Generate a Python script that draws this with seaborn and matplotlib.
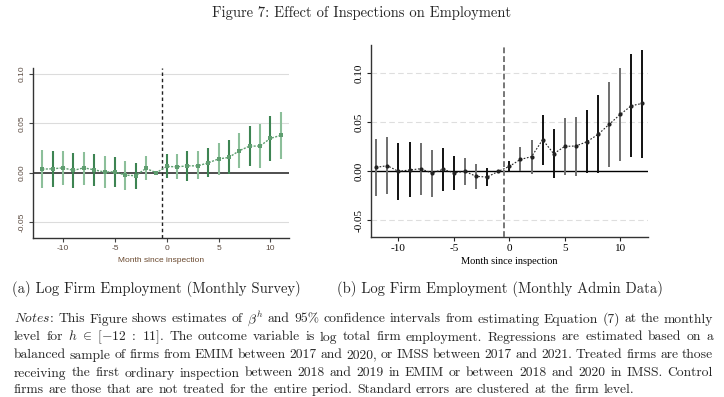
import numpy as np
import pandas as pd
import matplotlib
matplotlib.use("Agg")
import matplotlib.pyplot as plt
import seaborn as sns

# ---------------- data ----------------
months_a = list(range(-12, 12))
coef_a = [0.0037, 0.0040, 0.0050, 0.0024, 0.0050, 0.0030, 0.0007, 0.0010,
          -0.0024, -0.0030, 0.0044, 0.0000, 0.0064, 0.0060, 0.0070, 0.0070,
          0.0100, 0.0140, 0.0155, 0.0223, 0.0270, 0.0270, 0.0348, 0.0378]
hi_a = [0.0230, 0.0220, 0.0220, 0.0196, 0.0210, 0.0190, 0.0170, 0.0160,
        0.0120, 0.0095, 0.0170, np.nan, 0.0186, 0.0190, 0.0220, 0.0220,
        0.0247, 0.0297, 0.0328, 0.0405, 0.0476, 0.0490, 0.0574, 0.0610]
lo_a = [-0.0150, -0.0140, -0.0125, -0.0150, -0.0120, -0.0135, -0.0155, -0.0145,
        -0.0170, -0.0160, -0.0074, np.nan, -0.0050, -0.0068, -0.0080, -0.0068,
        -0.0047, -0.0020, -0.0017, 0.0044, 0.0068, 0.0050, 0.0122, 0.0139]

months_b = list(range(-12, 13))
coef_b = [0.0041, 0.0058, 0.0000, 0.0014, 0.0027, -0.0017, 0.0020, -0.0014,
          0.0000, -0.0051, -0.0058, 0.0000, 0.0051, 0.0122, 0.0150, 0.0323,
          0.0180, 0.0255, 0.0259, 0.0303, 0.0378, 0.0480, 0.0582, 0.0670, 0.0694]
hi_b = [0.0327, 0.0347, 0.0286, 0.0296, 0.0293, 0.0221, 0.0238, 0.0156,
        0.0140, 0.0078, 0.0030, np.nan, 0.0105, 0.0245, 0.0320, 0.0580,
        0.0432, 0.0544, 0.0558, 0.0626, 0.0779, 0.0912, 0.1054, 0.1197, 0.1238]
lo_b = [-0.0248, -0.0235, -0.0293, -0.0265, -0.0241, -0.0259, -0.0201, -0.0187,
        -0.0140, -0.0180, -0.0146, np.nan, -0.0003, 0.0000, -0.0027, 0.0065,
        -0.0068, -0.0040, -0.0044, -0.0020, -0.0020, 0.0048, 0.0105, 0.0150, 0.0140]

x_ticks = [-10, -5, 0, 5, 10]
y_ticks = [-0.05, 0.00, 0.05, 0.10]
y_ticklabels = ["-0.05", "0.00", "0.05", "0.10"]
event_line = -0.5

title = "Figure 7: Effect of Inspections on Employment"
caption_a = "(a) Log Firm Employment (Monthly Survey)"
caption_b = "(b) Log Firm Employment (Monthly Admin Data)"
xlabel = "Month since inspection"
notes_lines = [
    r"$\mathit{Notes}$: This Figure shows estimates of $\beta^h$ and 95% confidence intervals from estimating Equation (7) at the monthly",
    r"level for $h\ \in\ [-12\ :\ 11]$. The outcome variable is log total firm employment. Regressions are estimated based on a",
    r"balanced sample of firms from EMIM between 2017 and 2020, or IMSS between 2017 and 2021. Treated firms are those",
    r"receiving the first ordinary inspection between 2018 and 2019 in EMIM or between 2018 and 2020 in IMSS. Control",
    r"firms are those that are not treated for the entire period. Standard errors are clustered at the firm level.",
]

df_a = pd.DataFrame({"month": months_a, "coef": coef_a, "lo": lo_a, "hi": hi_a})
df_b = pd.DataFrame({"month": months_b, "coef": coef_b, "lo": lo_b, "hi": hi_b})

# ---------------- style ----------------
sns.set_theme(style="white")
plt.rcParams["mathtext.fontset"] = "cm"
plt.rcParams["axes.unicode_minus"] = False

W, H = 724, 397
fig = plt.figure(figsize=(W / 100, H / 100), dpi=100)
fig.patch.set_facecolor("white")

def box(x0, y0, x1, y1):
    return [x0 / W, 1 - y1 / H, (x1 - x0) / W, (y1 - y0) / H]

# ---------------- panel (a) ----------------
axa = fig.add_axes(box(33, 68, 289, 238))
ca = df_a.dropna()
cols_a = ["#8cbf9a" if i % 2 == 0 else "#3d8452" for i in range(len(ca))]
axa.vlines(ca["month"], ca["lo"], ca["hi"], colors=cols_a, lw=1.5, zorder=2)
for yv in [-0.05, 0.05, 0.10]:
    axa.axhline(yv, color="#dcdcdc", lw=0.8, zorder=0)
axa.axhline(0, color="#404040", lw=1.3, zorder=1)
axa.axvline(event_line, color="#222222", lw=1.0, ls=(0, (2.5, 2)), zorder=3)
sns.lineplot(data=df_a, x="month", y="coef", ax=axa, color="#5f9e70",
             linestyle=(0, (1.5, 1)), lw=1.0, marker="s", markersize=3,
             markeredgewidth=0, zorder=4)
axa.set_xlim(-12.9, 11.8)
axa.set_ylim(-0.066, 0.106)
axa.set_xticks(x_ticks)
axa.set_xticklabels([str(t) for t in x_ticks])
axa.set_yticks(y_ticks)
axa.set_yticklabels(y_ticklabels, rotation=90, va="center")
axa.tick_params(axis="both", labelsize=6, colors="#444444", length=3,
                width=0.8, direction="out", pad=2, left=True, bottom=True)
for lab in axa.get_xticklabels() + axa.get_yticklabels():
    lab.set_family("Liberation Sans")
    lab.set_color("#5a4a40")
axa.set_xlabel(xlabel, fontsize=6, color="#6b4a30", family="Liberation Sans", labelpad=4)
axa.set_ylabel("")
for s in ["top", "right"]:
    axa.spines[s].set_visible(False)
for s in ["left", "bottom"]:
    axa.spines[s].set_color("#333333")
    axa.spines[s].set_linewidth(1.0)

# ---------------- panel (b) ----------------
axb = fig.add_axes(box(370.7, 45, 648, 236.7))
cb = df_b.dropna()
cols_b = ["#6e6e6e" if (i // 2) % 2 == 0 else "#111111" for i in range(len(cb))]
axb.vlines(cb["month"], cb["lo"], cb["hi"], colors=cols_b, lw=1.4, zorder=2)
for yv in [-0.05, 0.05, 0.10]:
    axb.axhline(yv, color="#dedede", lw=0.8, ls=(0, (5, 3)), zorder=0)
axb.axhline(0, color="black", lw=1.0, zorder=1)
axb.axvline(event_line, color="#777777", lw=1.4, ls=(0, (3, 1.5)), zorder=3)
sns.lineplot(data=df_b, x="month", y="coef", ax=axb, color="#222222",
             linestyle=(0, (1.5, 1.5)), lw=0.8, marker="o", markersize=3,
             markeredgewidth=0, zorder=4)
axb.set_xlim(-12.5, 12.5)
axb.set_ylim(-0.0667, 0.129)
axb.set_xticks(x_ticks)
axb.set_xticklabels([str(t) for t in x_ticks])
axb.set_yticks(y_ticks)
axb.set_yticklabels(y_ticklabels, rotation=90, va="center")
axb.tick_params(axis="both", labelsize=8, colors="#222222", length=3,
                width=0.8, direction="out", pad=2, left=True, bottom=True)
for lab in axb.get_xticklabels() + axb.get_yticklabels():
    lab.set_family("Liberation Serif")
    lab.set_color("black")
axb.set_xlabel(xlabel, fontsize=7.5, color="black", family="Liberation Serif", labelpad=3)
axb.set_ylabel("")
for s in ["top", "right"]:
    axb.spines[s].set_visible(False)
for s in ["left", "bottom"]:
    axb.spines[s].set_color("#333333")
    axb.spines[s].set_linewidth(1.0)

# ---------------- texts ----------------
fig.text(362 / W, 1 - 17 / H, title, ha="center", va="baseline",
         fontsize=10.5, family="cmr10")
fig.text(156 / W, 1 - 293 / H, caption_a, ha="center", va="baseline",
         fontsize=10.5, family="cmr10")
fig.text(500 / W, 1 - 293 / H, caption_b, ha="center", va="baseline",
         fontsize=10.5, family="cmr10")

def split_tokens(s):
    toks, cur, inmath = [], "", False
    for ch in s:
        if ch == "$":
            inmath = not inmath
        if ch == " " and not inmath:
            if cur:
                toks.append(cur)
            cur = ""
        else:
            cur += ch
    if cur:
        toks.append(cur)
    return toks

renderer = fig.canvas.get_renderer()
x_left, x_right = 14, 713
baselines = [322.5, 340.5, 358.5, 376.5, 393.0]
fs_notes = 9.8
space_w = 0.33 * fs_notes * 100 / 72
for k, (line, yb) in enumerate(zip(notes_lines, baselines)):
    toks = split_tokens(line)
    texts = [fig.text(0, 1 - yb / H, t, fontsize=fs_notes, family="cmr10",
                      va="baseline", ha="left") for t in toks]
    widths = [t.get_window_extent(renderer).width for t in texts]
    if k < len(notes_lines) - 1:
        gap = (x_right - x_left - sum(widths)) / max(len(toks) - 1, 1)
    else:
        gap = space_w
    x = x_left
    for t, w in zip(texts, widths):
        t.set_x(x / W)
        x += w + gap

fig.savefig("out.png", dpi=100, facecolor="white")
